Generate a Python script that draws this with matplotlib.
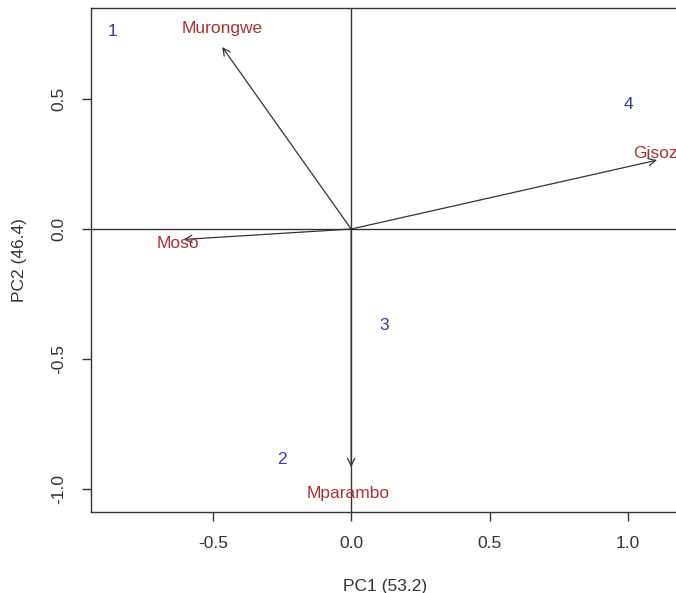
import matplotlib.pyplot as plt

plt.rcParams['font.family'] = ['Liberation Sans', 'DejaVu Sans']

# loadings (arrows) for the four sites
sites = ["Murongwe", "Moso", "Gisoza", "Mparambo"]
load_pc1 = [-0.466, -0.606, 1.105, 0.0]
load_pc2 = [0.70, -0.04, 0.265, -0.915]
label_pc1 = [-0.466, -0.625, 1.018, -0.01]
label_pc2 = [0.77, -0.054, 0.292, -1.015]
label_ha = ["center", "center", "left", "center"]

# scores (numbered observations)
obs = ["1", "2", "3", "4"]
score_pc1 = [-0.863, -0.249, 0.119, 1.0]
score_pc2 = [0.76, -0.888, -0.369, 0.48]

xticks = [-0.5, 0.0, 0.5, 1.0]
yticks = [-1.0, -0.5, 0.0, 0.5]

fig = plt.figure(figsize=(6.76, 5.93), dpi=100)
ax = fig.add_axes([91 / 676, 81 / 593, 589 / 676, 504 / 593])
ax.set_xlim(-0.94, 1.188)
ax.set_ylim(-1.088, 0.85)

ax.axhline(0, color="#333333", lw=1)
ax.axvline(0, color="#333333", lw=1)

for name, x, y, lx, ly, ha in zip(sites, load_pc1, load_pc2, label_pc1, label_pc2, label_ha):
    ax.annotate("", xy=(x, y), xytext=(0, 0),
                arrowprops=dict(arrowstyle="->", color="#333333", lw=0.9,
                                mutation_scale=13, shrinkA=0, shrinkB=0))
    ax.text(lx, ly, name, color="#a83232", fontsize=12.5,
            ha=ha, va="center", clip_on=False)

for name, x, y in zip(obs, score_pc1, score_pc2):
    ax.text(x, y, name, color="#3535b0", fontsize=12.5, ha="center", va="center")

ax.set_xticks(xticks)
ax.set_xticklabels(["-0.5", "0.0", "0.5", "1.0"])
ax.set_yticks(yticks)
ax.set_yticklabels(["-1.0", "-0.5", "0.0", "0.5"], rotation=90, va="center")
ax.tick_params(direction="out", length=6.5, width=1, color="#333333",
               labelsize=12.5, labelcolor="#333333")
ax.tick_params(axis="x", pad=11)
ax.tick_params(axis="y", pad=11)
for s in ax.spines.values():
    s.set_color("#333333")
    s.set_linewidth(1)

ax.set_xlabel("PC1 (53.2)", fontsize=12.5, color="#333333", labelpad=20)
ax.set_ylabel("PC2 (46.4)", fontsize=12.5, color="#333333", labelpad=18)

fig.savefig("out.png", dpi=100)
